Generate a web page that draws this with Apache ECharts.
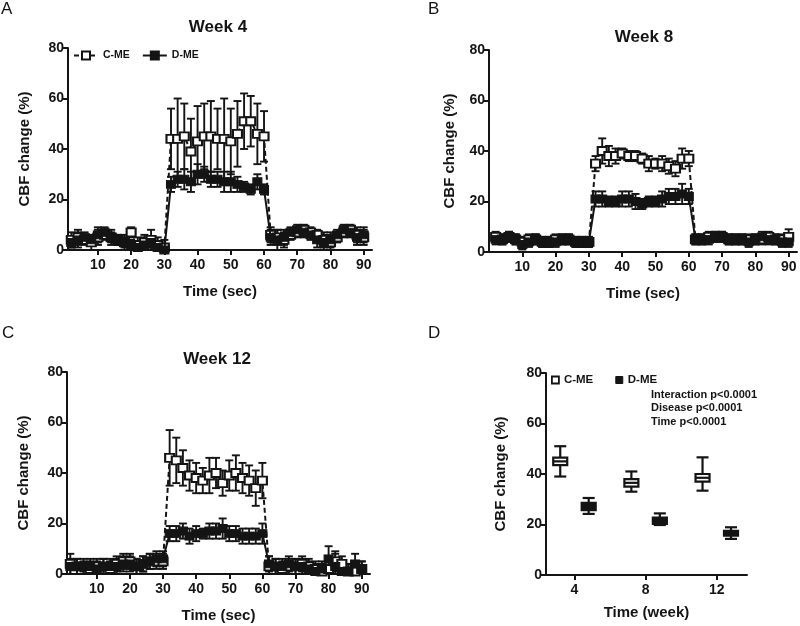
<!DOCTYPE html>
<html><head><meta charset="utf-8">
<script src="https://cdn.jsdelivr.net/npm/echarts@6/dist/echarts.min.js"></script>
<style>html,body{margin:0;padding:0;background:#fff}#c{width:800px;height:626px}</style>
</head><body><div id="c"></div>
<script>
// ---------- data ----------
const times = [2,4,6,8,10,12,14,16,18,20,22,24,26,28,30,32,34,36,38,40,42,44,46,48,50,52,54,56,58,60,62,64,66,68,70,72,74,76,78,80,82,84,86,88,90];
const timeTicks = [10,20,30,40,50,60,70,80,90];

// Week 4
const w4_cme     = [4,5,4,3,5,6,5,4,3,7,2,3,4,2,1, 44,44,45,39,43,45,45,44,44,43,46,51,51,46,45, 6,5,4,6,7,8,7,6,4,3,5,7,8,6,5];
const w4_cme_err = [3,3,2,3,3,2,3,2,3,2,3,3,4,3,3, 12,16,13,13,14,13,14,12,16,13,13,11,10,12,10, 3,3,3,2,2,2,2,2,3,3,2,2,2,3,3];
const w4_dme     = [3,4,5,4,6,7,5,4,3,2,1,2,3,1,0, 26,28,28,27,30,30,28,28,27,27,26,25,24,27,24, 5,4,5,7,8,7,6,4,3,4,6,8,7,5,6];
const w4_dme_err = [2,3,2,2,3,2,2,2,2,2,2,3,2,2,2, 3,3,4,4,4,3,3,3,4,4,3,2,2,3,2, 3,4,3,2,2,2,2,3,3,3,2,2,2,3,3];
// Week 8
const w8_cme     = [6,5,6,5,4,5,5,4,4,5,5,5,4,4,4, 35,40,38,38,39,38,38,37,35,35,35,34,33,37,37, 5,5,6,6,6,5,5,5,5,5,5,6,5,5,6];
const w8_cme_err = [2,2,2,2,2,2,2,2,2,2,2,2,2,2,2, 3,5,4,3,2,2,2,2,3,2,3,3,3,4,3, 2,2,2,2,2,2,2,2,2,2,2,2,2,2,3];
const w8_dme     = [5,5,6,5,3,4,5,4,4,4,5,5,4,4,4, 21,21,20,20,21,21,20,19,20,20,21,22,22,23,22, 5,5,5,6,6,5,5,5,4,5,6,5,5,4,4];
const w8_dme_err = [2,2,2,2,2,2,2,2,2,2,2,2,2,2,2, 3,3,2,2,3,3,3,2,2,2,3,3,3,4,3, 2,2,2,2,2,2,2,2,2,2,2,2,2,2,2];
// Week 12
const w12_cme     = [4,3,3,2,3,3,2,4,5,5,3,4,5,5,5, 46,45,42,39,38,37,39,40,36,39,40,38,37,34,37, 3,3,2,3,3,4,3,2,1,2,5,4,1,1,2];
const w12_cme_err = [4,3,2,3,3,3,3,3,3,3,3,3,3,3,3, 11,9,7,6,6,5,7,6,5,6,7,6,6,7,7, 4,3,3,3,3,3,3,3,3,3,4,3,3,3,3];
const w12_dme     = [3,3,3,3,2,3,3,3,4,4,3,4,5,6,6, 16,16,17,15,16,16,17,17,18,16,16,15,15,15,16, 4,3,3,4,3,3,2,1,2,6,3,1,1,4,2];
const w12_dme_err = [3,3,3,3,3,3,3,3,3,3,3,3,3,3,3, 3,3,3,3,3,2,3,3,4,3,3,3,3,3,4, 3,3,3,3,3,3,3,3,3,5,5,3,3,4,3];

// Panel D (box plots)
const weeks = [4,8,12];
const cme_low  = [39,33,33.4];
const cme_q1   = [43.5,35,37];
const cme_med  = [45,36.5,38.5];
const cme_q3   = [46.5,38,40];
const cme_high = [51,41,46.6];
const dme_low  = [24.2,19.8,14.3];
const dme_q1   = [25.7,20.2,15.6];
const dme_med  = [27,21.5,16.5];
const dme_q3   = [28.6,22.7,17.5];
const dme_high = [30.5,24.4,18.9];

// ---------- styling ----------
const FONT = "'Liberation Sans', Arial, sans-serif";
const BLACK = '#141414';

const grids = [
  {left: 68, top: 48, width: 304, height: 202},
  {left: 489, top: 50, width: 308, height: 202},
  {left: 67, top: 372, width: 303, height: 202},
  {left: 546, top: 373, width: 201, height: 202}
];

function yAxis(i, gap) {
  return {
    type: 'value', gridIndex: i, min: 0, max: 80, interval: 20,
    name: 'CBF change (%)', nameLocation: 'middle', nameGap: gap,
    nameTextStyle: {fontFamily: FONT, fontWeight: 'bold', fontSize: 15, color: BLACK},
    axisLine: {show: true, lineStyle: {color: BLACK, width: 2}},
    axisTick: {show: true, length: 5, lineStyle: {color: BLACK, width: 2}},
    axisLabel: {fontFamily: FONT, fontWeight: 'bold', fontSize: 14, color: BLACK, margin: 4},
    splitLine: {show: false}
  };
}
function timeAxis(i, min) {
  return {
    type: 'value', gridIndex: i, min: min, max: 92.5,
    name: 'Time (sec)', nameLocation: 'middle', nameGap: 34,
    nameTextStyle: {fontFamily: FONT, fontWeight: 'bold', fontSize: 15, color: BLACK},
    axisLine: {show: true, onZero: false, lineStyle: {color: BLACK, width: 2}},
    axisTick: {show: true, length: 5, customValues: timeTicks, lineStyle: {color: BLACK, width: 2}},
    axisLabel: {fontFamily: FONT, fontWeight: 'bold', fontSize: 14, color: BLACK, margin: 8, customValues: timeTicks},
    splitLine: {show: false}
  };
}

function pairs(vals) { return times.map((t, k) => [t, vals[k]]); }
function triples(vals, errs) { return times.map((t, k) => [t, vals[k], errs[k]]); }

function errRender(params, api) {
  const x = api.value(0), y = api.value(1), e = api.value(2);
  const top = api.coord([x, y + e]);
  const bot = api.coord([x, y - e]);
  const cw = 4;
  const st = {stroke: BLACK, lineWidth: 1.9};
  return {type: 'group', children: [
    {type: 'line', shape: {x1: top[0], y1: top[1], x2: bot[0], y2: bot[1]}, style: st},
    {type: 'line', shape: {x1: top[0]-cw, y1: top[1], x2: top[0]+cw, y2: top[1]}, style: st},
    {type: 'line', shape: {x1: bot[0]-cw, y1: bot[1], x2: bot[0]+cw, y2: bot[1]}, style: st}
  ]};
}

function panelSeries(i, cme, cmeErr, dme, dmeErr) {
  return [
    {type: 'custom', name: 'C-ME err', xAxisIndex: i, yAxisIndex: i, renderItem: errRender,
     data: triples(cme, cmeErr), clip: true, z: 2, silent: true},
    {type: 'custom', name: 'D-ME err', xAxisIndex: i, yAxisIndex: i, renderItem: errRender,
     data: triples(dme, dmeErr), clip: true, z: 2, silent: true},
    {type: 'line', name: 'C-ME', xAxisIndex: i, yAxisIndex: i, data: pairs(cme),
     symbol: 'rect', symbolSize: [9, 8], showAllSymbol: true,
     lineStyle: {color: BLACK, width: 2, type: [5, 3]},
     itemStyle: {color: '#fff', borderColor: BLACK, borderWidth: 2}, z: 3, animation: false},
    {type: 'line', name: 'D-ME', xAxisIndex: i, yAxisIndex: i, data: pairs(dme),
     symbol: 'rect', symbolSize: [9, 8], showAllSymbol: true,
     lineStyle: {color: BLACK, width: 2},
     itemStyle: {color: BLACK, borderColor: BLACK, borderWidth: 1}, z: 4, animation: false}
  ];
}

function boxRender(offset, fill) {
  return function (params, api) {
    const w = api.value(0) + offset;
    const lo = api.coord([w, api.value(1)]);
    const q1 = api.coord([w, api.value(2)]);
    const md = api.coord([w, api.value(3)]);
    const q3 = api.coord([w, api.value(4)]);
    const hi = api.coord([w, api.value(5)]);
    const hw = 7, cw = 6;
    const st = {stroke: BLACK, lineWidth: 2.2};
    const x = lo[0];
    return {type: 'group', children: [
      {type: 'line', shape: {x1: x, y1: hi[1], x2: x, y2: q3[1]}, style: st},
      {type: 'line', shape: {x1: x, y1: q1[1], x2: x, y2: lo[1]}, style: st},
      {type: 'line', shape: {x1: x-cw, y1: hi[1], x2: x+cw, y2: hi[1]}, style: st},
      {type: 'line', shape: {x1: x-cw, y1: lo[1], x2: x+cw, y2: lo[1]}, style: st},
      {type: 'rect', shape: {x: x-hw, y: q3[1], width: 2*hw, height: q1[1]-q3[1]},
       style: {fill: fill, stroke: BLACK, lineWidth: 2.2}},
      {type: 'line', shape: {x1: x-hw, y1: md[1], x2: x+hw, y2: md[1]}, style: st}
    ]};
  };
}

const cmeBox = weeks.map((w, k) => [w, cme_low[k], cme_q1[k], cme_med[k], cme_q3[k], cme_high[k]]);
const dmeBox = weeks.map((w, k) => [w, dme_low[k], dme_q1[k], dme_med[k], dme_q3[k], dme_high[k]]);

const titleFont = {fontFamily: FONT, fontWeight: 'bold', fontSize: 17, color: BLACK};
const letterFont = {fontFamily: FONT, fontWeight: 'normal', fontSize: 17, color: BLACK};
const legendText = {fontFamily: FONT, fontWeight: 'bold', fontSize: 10.5, color: BLACK};

const option = {
  backgroundColor: '#fff',
  animation: false,
  grid: grids,
  title: [
    {text: 'A', left: 1, top: 1, textStyle: letterFont, padding: 0},
    {text: 'B', left: 428, top: 1, textStyle: letterFont, padding: 0},
    {text: 'C', left: 2, top: 325, textStyle: letterFont, padding: 0},
    {text: 'D', left: 428, top: 325, textStyle: letterFont, padding: 0},
    {text: 'Week 4', left: 218, top: 19, textAlign: 'center', textStyle: titleFont, padding: 0},
    {text: 'Week 8', left: 644, top: 29, textAlign: 'center', textStyle: titleFont, padding: 0},
    {text: 'Week 12', left: 217, top: 351, textAlign: 'center', textStyle: titleFont, padding: 0}
  ],
  legend: [
    {left: 73, top: 50, orient: 'horizontal', itemWidth: 24, itemHeight: 10, itemGap: 12,
     padding: 0, textStyle: legendText, data: ['C-ME', 'D-ME'], selectedMode: false},
    {left: 551, top: 374, orient: 'horizontal', itemWidth: 7, itemHeight: 7, itemGap: 22,
     padding: 0, textStyle: Object.assign({}, legendText, {fontSize: 11.5}), selectedMode: false,
     data: [
       {name: 'C-ME', icon: 'rect', itemStyle: {color: '#fff', borderColor: BLACK, borderWidth: 1.8}},
       {name: 'D-ME', icon: 'rect', itemStyle: {color: BLACK, borderColor: BLACK, borderWidth: 1}}
     ]}
  ],
  xAxis: [
    timeAxis(0, 1),
    timeAxis(1, 0),
    timeAxis(2, 1),
    {type: 'value', gridIndex: 3, min: 2.4, max: 13.7,
     name: 'Time (week)', nameLocation: 'middle', nameGap: 30,
     nameTextStyle: {fontFamily: FONT, fontWeight: 'bold', fontSize: 15, color: BLACK},
     axisLine: {show: true, onZero: false, lineStyle: {color: BLACK, width: 2}},
     axisTick: {show: true, length: 5, customValues: weeks, lineStyle: {color: BLACK, width: 2}},
     axisLabel: {fontFamily: FONT, fontWeight: 'bold', fontSize: 14, color: BLACK, margin: 8, customValues: weeks},
     splitLine: {show: false}}
  ],
  yAxis: [yAxis(0, 36), yAxis(1, 32), yAxis(2, 36), yAxis(3, 38)],
  graphic: [
    {type: 'text', left: 651, top: 388, style: {text: 'Interaction p<0.0001\nDisease p<0.0001\nTime p<0.0001',
      font: 'bold 11px ' + FONT, fill: BLACK, lineHeight: 13.5}}
  ],
  series: [
    ...panelSeries(0, w4_cme, w4_cme_err, w4_dme, w4_dme_err),
    ...panelSeries(1, w8_cme, w8_cme_err, w8_dme, w8_dme_err),
    ...panelSeries(2, w12_cme, w12_cme_err, w12_dme, w12_dme_err),
    {type: 'custom', name: 'C-ME', xAxisIndex: 3, yAxisIndex: 3, renderItem: boxRender(-0.8, '#fff'),
     data: cmeBox, itemStyle: {color: '#fff', borderColor: BLACK}, z: 3},
    {type: 'custom', name: 'D-ME', xAxisIndex: 3, yAxisIndex: 3, renderItem: boxRender(0.8, BLACK),
     data: dmeBox, itemStyle: {color: BLACK}, z: 3}
  ]
};

const chart = echarts.init(document.getElementById('c'), null, {renderer: 'canvas'});
chart.setOption(option);
</script>
</body></html>
